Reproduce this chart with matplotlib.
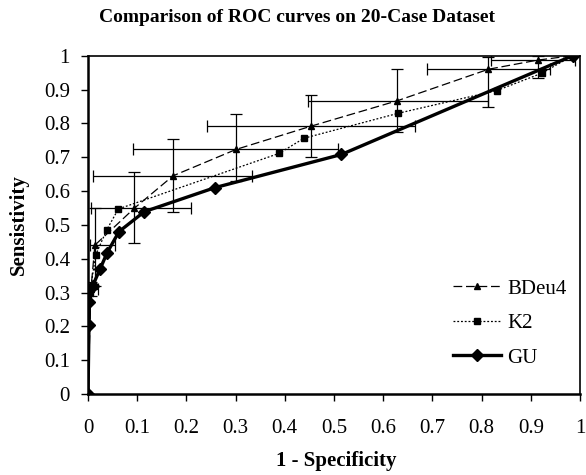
import matplotlib
matplotlib.use("Agg")
import matplotlib.pyplot as plt
import numpy as np

plt.rcParams['font.family'] = ['Liberation Serif', 'DejaVu Serif']

# ---- data ----
bdeu_x = [0.0, 0.006, 0.014, 0.094, 0.173, 0.301, 0.454, 0.629, 0.814, 0.914, 0.985]
bdeu_y = [0.0, 0.31, 0.440, 0.549, 0.645, 0.723, 0.792, 0.867, 0.960, 0.987, 1.0]
bdeu_xlo = [0.0, 0.003, 0.004, 0.0055, 0.011, 0.091, 0.241, 0.448, 0.690, 0.820, 0.985]
bdeu_xhi = [0.0, 0.020, 0.055, 0.210, 0.334, 0.509, 0.665, 0.814, 0.940, 0.990, 0.985]
bdeu_ylo = [0.0, 0.29, 0.320, 0.445, 0.539, 0.630, 0.700, 0.775, 0.849, 0.934, 1.0]
bdeu_yhi = [0.0, 0.33, 0.550, 0.655, 0.753, 0.827, 0.884, 0.960, 0.997, 1.0, 1.0]

k2_x = [0.0, 0.004, 0.0156, 0.038, 0.0617, 0.388, 0.439, 0.631, 0.831, 0.922, 0.985]
k2_y = [0.0, 0.30, 0.411, 0.485, 0.547, 0.711, 0.756, 0.830, 0.897, 0.948, 1.0]

gu_x = [0.0, 0.002, 0.003, 0.0095, 0.0244, 0.039, 0.063, 0.1145, 0.258, 0.515, 0.985]
gu_y = [0.0, 0.204, 0.273, 0.320, 0.369, 0.418, 0.480, 0.539, 0.610, 0.708, 1.0]

ticks = [0, 0.1, 0.2, 0.3, 0.4, 0.5, 0.6, 0.7, 0.8, 0.9, 1]
tick_labels = ["0", "0.1", "0.2", "0.3", "0.4", "0.5", "0.6", "0.7", "0.8", "0.9", "1"]

# ---- figure ----
W, H = 586, 475
fig = plt.figure(figsize=(W / 100, H / 100), dpi=100)
ax = fig.add_axes([88 / W, 1 - 394 / H, (580 - 88) / W, (394 - 55.7) / H])

bx = np.array(bdeu_x); by = np.array(bdeu_y)
ax.errorbar(bx, by,
            xerr=[bx - np.array(bdeu_xlo), np.array(bdeu_xhi) - bx],
            yerr=[by - np.array(bdeu_ylo), np.array(bdeu_yhi) - by],
            fmt='none', ecolor='black', elinewidth=0.9, capsize=4.5, capthick=0.9,
            zorder=2)

ax.plot(bdeu_x, bdeu_y, color='black', lw=0.9, ls=(0, (7, 3)), marker='^',
        ms=5, label='BDeu4', zorder=3)
ax.plot(k2_x, k2_y, color='black', lw=0.9, ls=(0, (1.5, 1.5)), marker='s',
        ms=4.5, label='K2', zorder=3)
ax.plot(gu_x, gu_y, color='black', lw=2.4, ls='-', marker='D',
        ms=6.5, label='GU', zorder=4)

ax.set_xlim(0, 1)
ax.set_ylim(0, 1)
ax.set_xticks(ticks)
ax.set_xticklabels(tick_labels)
ax.set_yticks(ticks)
ax.set_yticklabels(tick_labels)
ax.tick_params(direction='out', length=5, width=1, labelsize=15, pad=8)
ax.tick_params(axis='x', pad=13)

for s in ['left', 'bottom']:
    ax.spines[s].set_linewidth(1.8)
for s in ['top', 'right']:
    ax.spines[s].set_linewidth(1.2)

leg = ax.legend(loc='upper left', bbox_to_anchor=((453 - 88) / 492, (394 - 279) / 338.3),
                frameon=False, fontsize=15, handlelength=2.3, handletextpad=0.3,
                labelspacing=0.72, borderpad=0, borderaxespad=0)

fig.text(297 / W, 1 - 17 / H, 'Comparison of ROC curves on 20-Case Dataset',
         ha='center', va='center', fontsize=14, fontweight='bold')
fig.text(336 / W, 1 - 461 / H, '1 - Specificity', ha='center', va='center',
         fontsize=15, fontweight='bold')
fig.text(19 / W, 1 - 225 / H, 'Sensistivity', ha='center', va='center',
         rotation=90, fontsize=15, fontweight='bold')

fig.savefig('out.png', dpi=100)
